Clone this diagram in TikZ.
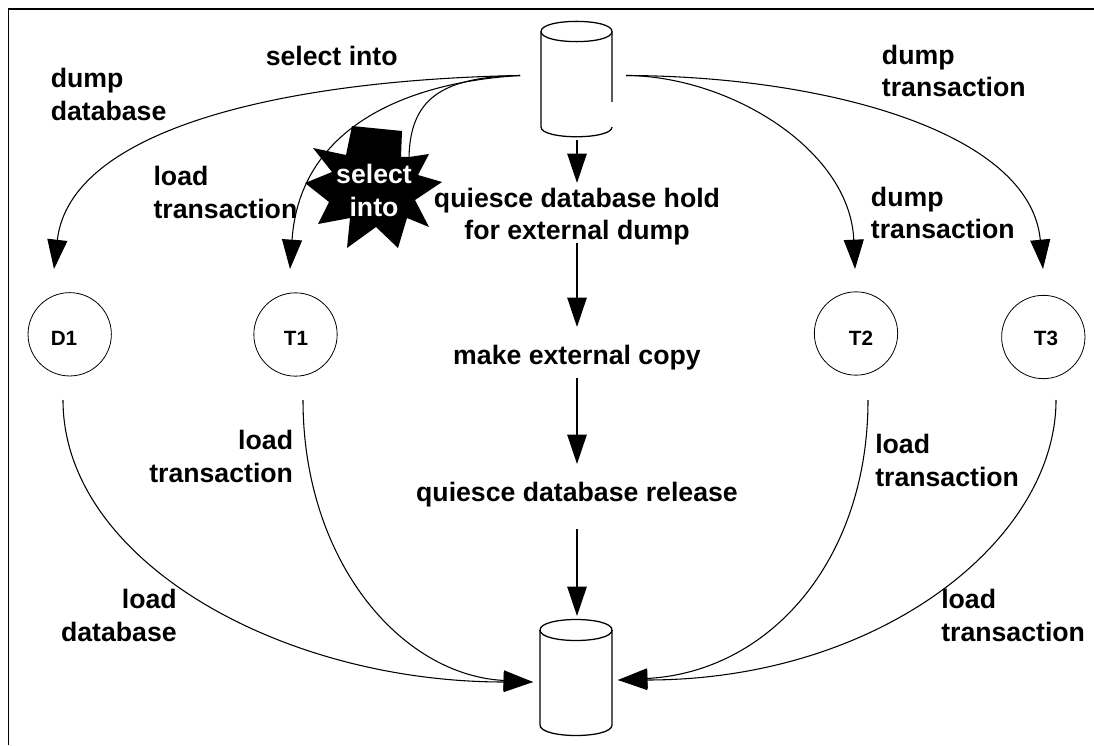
\documentclass[tikz,border=0pt]{standalone}
\usepackage{fontspec}
\setmainfont{Liberation Sans}
\usetikzlibrary{arrows.meta}
\tikzset{
  px/.style={x=0.75pt,y=-0.75pt},
  framel/.style={line width=1.4pt},
  cyl/.style={line width=0.95pt},
  curveline/.style={line width=0.8pt,-{Triangle[length=22pt,width=15pt]}},
  thick arrow/.style={line width=1.2pt,-{Triangle[length=22pt,width=14.5pt]}},
  plainline/.style={line width=0.8pt},
  lab/.style={font=\bfseries\fontsize{20}{24.5}\selectfont,align=left,inner sep=0pt,anchor=north west},
  labr/.style={font=\bfseries\fontsize{20}{24.5}\selectfont,align=right,inner sep=0pt,anchor=north east},
  labc/.style={font=\bfseries\fontsize{20}{24.5}\selectfont,align=center,inner sep=0pt,anchor=north},
  circ/.style={circle,draw,line width=0.6pt,minimum size=62.5pt,inner sep=0pt},
  circt/.style={font=\bfseries\fontsize{15.5}{18}\selectfont,inner sep=0pt,anchor=base},
}
\begin{document}
\begin{tikzpicture}[px]
\useasboundingbox (0,0) rectangle (1094,745);
% frame
\draw[framel] (8.5,745) -- (8.5,9) -- (1094,9);
% top cylinder
\draw[cyl] (612,102) -- (612,31.5) .. controls (612,18) and (541,18) .. (541,31.5) -- (541,127) .. controls (541,140) and (612,140) .. (612,127);
\draw[cyl] (541,31.5) .. controls (541,45) and (612,45) .. (612,31.5);
% bottom cylinder
\draw[cyl] (540,630) .. controls (540,616) and (612,616) .. (612,630) -- (612,725) .. controls (612,739) and (540,739) .. (540,725) -- cycle;
\draw[cyl] (540,630) .. controls (540,644) and (612,644) .. (612,630);
% free ends
\coordinate (srcL) at (520,75.5);
\coordinate (srcR) at (626,75.5);
\coordinate (a1s) at (577,140);
\coordinate (a1e) at (577,183);
\coordinate (a2s) at (577,243);
\coordinate (a2e) at (577,327);
\coordinate (a3s) at (577,378);
\coordinate (a3e) at (577,464);
\coordinate (a4s) at (577,529);
\coordinate (a4e) at (577,616);
\coordinate (tipD) at (54,269);
\coordinate (tipT) at (290,269);
\coordinate (tipU) at (855,269);
\coordinate (tipV) at (1043,269);
\coordinate (outD) at (63,400);
\coordinate (outT) at (303,400);
\coordinate (outU) at (868,400);
\coordinate (outV) at (1056,400);
\coordinate (dstL) at (533,682);
\coordinate (dstR) at (618,680);
\coordinate (selEnd) at (409,158);
% explosion
\fill (352,126) -- (402,131) -- (401,157) -- (409,157) -- (429,154) -- (418,175) -- (442,182) -- (415,200) -- (429,227) -- (407,218) -- (398,248) -- (376,227) -- (347,248) -- (350,218) -- (318,224) -- (329,202) -- (305,183) -- (332,172) -- (313,148) -- (346,155) -- cycle;
\node[labc,text=white] (burst) at (374,163.8) {select\\into};
% circles
\node[circ] (D1) at (69.7,334.3) {};
\node[circ] (T1) at (295.5,334.5) {};
\node[circ] (T2) at (856,333.5) {};
\node[circ] (T3) at (1043.3,337) {};
\node[circt] (D1t) at (64,345) {D1};
\node[circt] (T1t) at (296,345) {T1};
\node[circt] (T2t) at (861,345) {T2};
\node[circt] (T3t) at (1046,345) {T3};
% curves
\draw[curveline] (srcL) .. controls (280,80) and (70,130) .. (tipD);
\draw[curveline] (srcL) .. controls (410,82) and (300,125) .. (tipT);
\draw[plainline] (srcL) .. controls (440,77) and (410,100) .. (selEnd);
\draw[curveline] (srcR) .. controls (730,76) and (850,150) .. (tipU);
\draw[curveline] (srcR) .. controls (820,76) and (1030,130) .. (tipV);
\draw[curveline] (outD) .. controls (63,560) and (280,682) .. (dstL);
\draw[curveline] (outT) .. controls (303,560) and (400,675) .. (dstL);
\draw[curveline] (outU) .. controls (868,560) and (770,672) .. (dstR);
\draw[curveline] (outV) .. controls (1056,540) and (880,680) .. (dstR);
% labels
\node[lab] (l1) at (50.5,68) {dump\\database};
\node[lab] (l2) at (265.5,46) {select into};
\node[lab] (l3) at (153.3,166) {load\\transaction};
\node[lab] (l4) at (881.7,44.5) {dump\\transaction};
\node[lab] (l5) at (870.7,186.5) {dump\\transaction};
\node[labc] (q1) at (577,187.5) {quiesce database hold\\for external dump};
\node[labc] (q2) at (577,345) {make external copy};
\node[labc] (q3) at (577,482) {quiesce database release};
\node[labr] (l6) at (293.3,430) {load\\transaction};
\node[lab] (l7) at (875,434) {load\\transaction};
\node[labr] (l8) at (177,589) {load\\database};
\node[lab] (l9) at (941,589) {load\\transaction};
% vertical arrows
\draw[thick arrow] (a1s) -- (a1e);
\draw[thick arrow] (a2s) -- (a2e);
\draw[thick arrow] (a3s) -- (a3e);
\draw[thick arrow] (a4s) -- (a4e);
\end{tikzpicture}
\end{document}
